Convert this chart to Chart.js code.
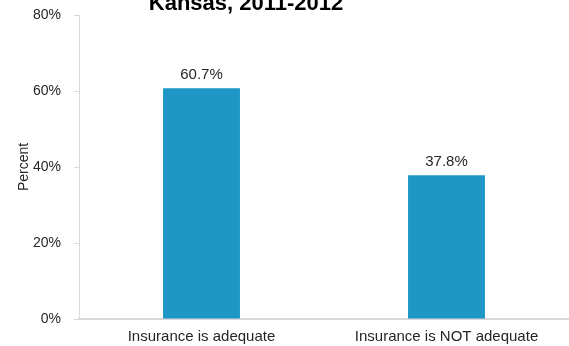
<!DOCTYPE html>
<html>
<head>
<meta charset="utf-8">
<script src="https://cdn.jsdelivr.net/npm/chart.js@4"></script>
<style>
  html, body { margin: 0; padding: 0; background: #fff; }
  #wrap { width: 569px; height: 346px; position: relative; }
</style>
</head>
<body>
<div id="wrap"><canvas id="chart"></canvas></div>
<script>
const categories = ['Insurance is adequate', 'Insurance is NOT adequate'];
const percentValues = [60.7, 37.8];
const yTicks = [0, 20, 40, 60, 80];
const titleText = 'Kansas, 2011-2012';

const barColor = '#1f97c6';
const axisColor = '#d9d9d9';
const textColor = '#262626';
const fontFamily = '"Liberation Sans", Arial, sans-serif';

// title sits partly above the canvas in the original, so draw it by hand
const cutTitle = {
    id: 'cutTitle',
    afterDraw(chart) {
        const ctx = chart.ctx;
        ctx.save();
        ctx.font = 'bold 22px ' + fontFamily;
        ctx.fillStyle = '#000';
        ctx.textAlign = 'center';
        ctx.textBaseline = 'alphabetic';
        ctx.fillText(titleText, 246, 10);
        ctx.restore();
    }
};

// value labels above each bar
const barLabels = {
    id: 'barLabels',
    afterDatasetsDraw(chart) {
        const ctx = chart.ctx;
        const meta = chart.getDatasetMeta(0);
        ctx.save();
        ctx.font = '15px ' + fontFamily;
        ctx.fillStyle = textColor;
        ctx.textAlign = 'center';
        ctx.textBaseline = 'bottom';
        meta.data.forEach((bar, i) => {
            ctx.fillText(percentValues[i].toFixed(1) + '%', bar.x, bar.y - 6);
        });
        ctx.restore();
    }
};

new Chart(document.getElementById('chart'), {
    type: 'bar',
    data: {
        labels: categories,
        datasets: [{
            data: percentValues,
            backgroundColor: barColor,
            borderWidth: 0,
            categoryPercentage: 1,
            barPercentage: 0.314
        }]
    },
    options: {
        responsive: true,
        maintainAspectRatio: false,
        animation: false,
        layout: { padding: { top: 15, right: 0, left: 0, bottom: 0 } },
        plugins: {
            legend: { display: false },
            tooltip: { enabled: false }
        },
        scales: {
            x: {
                afterFit(scale) { scale.height = 27; },
                grid: { display: false },
                border: { color: axisColor, width: 2 },
                ticks: {
                    color: textColor,
                    padding: 1,
                    font: { family: fontFamily, size: 15 }
                }
            },
            y: {
                min: 0,
                max: 80,
                afterBuildTicks(scale) { scale.ticks = yTicks.map(v => ({ value: v })); },
                afterFit(scale) {
                    scale.width = 79;
                    scale.paddingTop = 0;
                    scale.paddingBottom = 0;
                },
                grid: { drawOnChartArea: false, color: axisColor, tickLength: 5 },
                border: { color: axisColor, width: 1 },
                title: {
                    display: true,
                    text: 'Percent',
                    color: textColor,
                    padding: { top: 16, bottom: 0 },
                    font: { family: fontFamily, size: 14 }
                },
                ticks: {
                    color: textColor,
                    padding: 13,
                    callback: v => v + '%',
                    font: { family: fontFamily, size: 14 }
                }
            }
        }
    },
    plugins: [cutTitle, barLabels]
});
</script>
</body>
</html>
